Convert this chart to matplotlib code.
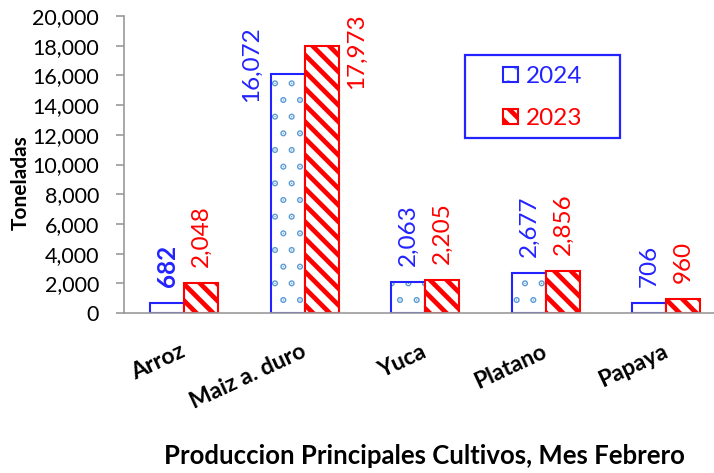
import matplotlib
matplotlib.use("Agg")
import matplotlib.pyplot as plt
import matplotlib.hatch as mhatch
from matplotlib.patches import Patch, Rectangle
from matplotlib.ticker import FuncFormatter
import numpy as np

# data
cultivos = ["Arroz", "Maiz a. duro", "Yuca", "Platano", "Papaya"]
prod_2024 = [682, 16072, 2063, 2677, 706]
prod_2023 = [2048, 17973, 2205, 2856, 960]
series_names = ["2024", "2023"]

BLUE = "#2323FF"
DOT = "#5B9BD5"
RED = "#FF0000"
GRAY = "#999999"

plt.rcParams["font.family"] = ["Lato", "DejaVu Sans"]
plt.rcParams["hatch.linewidth"] = 3.4
# smaller dots for the '.' hatch, closer to the Excel "dotted" fill
mhatch.SmallFilledCircles.size *= 0.4

fig = plt.figure(figsize=(7.14, 4.73), dpi=100)
ax = fig.add_axes([124 / 714, 160 / 473, 590 / 714, 297 / 473])

x = np.arange(len(cultivos))
w = 0.282

# 2024 bars: dotted fill + blue outline
ax.bar(x - w / 2, prod_2024, w, facecolor="white", edgecolor=DOT, hatch=".", linewidth=0)
ax.bar(x - w / 2, prod_2024, w, fill=False, edgecolor=BLUE, linewidth=1.5)
# 2023 bars: red diagonal stripes
ax.bar(x + w / 2, prod_2023, w, facecolor="white", edgecolor=RED, hatch="\\\\", linewidth=1.5)

ax.set_xlim(-0.5, -0.5 + 590 / 120.5)
ax.set_ylim(0, 20000)
ax.set_yticks(np.arange(0, 20001, 2000))
ax.yaxis.set_major_formatter(FuncFormatter(lambda v, p: f"{int(v):,}"))

for s in ["top", "right"]:
    ax.spines[s].set_visible(False)
for s in ["left", "bottom"]:
    ax.spines[s].set_color(GRAY)
    ax.spines[s].set_linewidth(1.2)

ax.tick_params(axis="y", direction="out", length=6, color=GRAY, width=1.2,
               labelsize=15.5, pad=12)
ax.tick_params(axis="x", length=0, pad=27)
ax.set_xticks(x)
ax.set_xticklabels(cultivos, rotation=25, ha="right", va="center",
                   rotation_mode="anchor", fontsize=16.5, fontweight="bold")

# data labels (the Maiz pair sits beside its bars)
side = {(1, 0): (-26.5, 7, "center"), (1, 1): (25, -4, "center")}
for j, vals in enumerate([prod_2024, prod_2023]):
    color = BLUE if j == 0 else RED
    for i, v in enumerate(vals):
        xi = x[i] + (w / 2 if j else -w / 2)
        dx, dy, va = side.get((i, j), (0, 11.5, "bottom"))
        ax.annotate(f"{v:,}", (xi, v), xytext=(dx, dy), textcoords="offset points",
                    rotation=90, ha="center", va=va, color=color, fontsize=17.5,
                    fontweight="bold" if (i == 0 and j == 0) else "normal")

ax.set_ylabel("Toneladas", fontsize=15, fontweight="bold")
ax.yaxis.set_label_coords(-0.158, 0.438)
ax.set_xlabel("Produccion Principales Cultivos, Mes Febrero", fontsize=18.5,
              fontweight="bold")
ax.xaxis.set_label_coords(0.51, -0.44)

# legend box and entries
fig.patches.append(Rectangle((465 / 714, 1 - 138 / 473), 155 / 714, 83 / 473,
                             transform=fig.transFigure, fill=False,
                             edgecolor=BLUE, linewidth=1.6))
h24 = (Patch(facecolor="white", edgecolor=DOT, hatch=".", linewidth=0),
       Patch(fill=False, edgecolor=BLUE, linewidth=1.5))
h23 = Patch(facecolor="white", edgecolor=RED, hatch="\\\\", linewidth=1.5)
leg = fig.legend([h24, h23], series_names, loc="center left",
                 bbox_to_anchor=(503 / 714, 1 - 97.5 / 473), frameon=False,
                 fontsize=17.5, handlelength=0.6, handleheight=0.6,
                 handletextpad=0.35, labelspacing=0.88, borderpad=0, borderaxespad=0)
for t, c in zip(leg.get_texts(), [BLUE, RED]):
    t.set_color(c)

fig.savefig("out.png", dpi=100, facecolor="white")
